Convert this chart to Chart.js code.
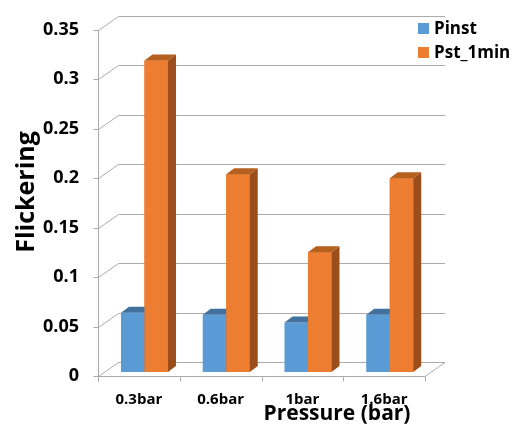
<!DOCTYPE html>
<html>
<head>
<meta charset="utf-8">
<title>Flickering vs pressure</title>
<script src="https://cdn.jsdelivr.net/npm/chart.js@4/dist/chart.umd.min.js"></script>
<style>
  html, body { margin: 0; padding: 0; background: #ffffff; }
  #wrap { width: 522px; height: 430px; }
</style>
</head>
<body>
<div id="wrap"><canvas id="c" width="522" height="430"></canvas></div>
<script>
// ---- data ----
const categories = ['0.3bar', '0.6bar', '1bar', '1.6bar'];
const seriesNames = ['Pinst', 'Pst_1min'];
const pinst = [0.060, 0.058, 0.050, 0.058];
const pst1min = [0.315, 0.200, 0.121, 0.196];
const yTicks = [0, 0.05, 0.1, 0.15, 0.2, 0.25, 0.3, 0.35];
const yTickLabels = ['0', '0.05', '0.1', '0.15', '0.2', '0.25', '0.3', '0.35'];
const xTitle = 'Pressure (bar)';
const yTitle = 'Flickering';

// ---- styling ----
const FONT = '"Open Sans", Lato, sans-serif';
const GRID = '#ababab';
const FRONT = ['#5b9bd5', '#ed7d31'];
const TOP = ['#41719c', '#b5601f'];
const SIDE = ['#35608a', '#9b4e1c'];
const WALL = { x: 20, y: -14 };      // depth of the back wall / floor
const BAR_SHIFT = { x: 5.6, y: -4 }; // bars sit a little into the depth
const BAR_DEPTH = { x: 8, y: -6 };   // thickness of each 3D bar

function drawFaces(ctx, bar, i) {
  const p = bar.getProps(['x', 'y', 'base', 'width'], true);
  const l = p.x - p.width / 2, r = p.x + p.width / 2;
  const top = p.y, bot = p.base;
  // top face
  ctx.fillStyle = TOP[i];
  ctx.beginPath();
  ctx.moveTo(l, top);
  ctx.lineTo(r, top);
  ctx.lineTo(r + BAR_DEPTH.x, top + BAR_DEPTH.y);
  ctx.lineTo(l + BAR_DEPTH.x, top + BAR_DEPTH.y);
  ctx.closePath();
  ctx.fill();
  // right side face
  ctx.fillStyle = SIDE[i];
  ctx.beginPath();
  ctx.moveTo(r, top);
  ctx.lineTo(r + BAR_DEPTH.x, top + BAR_DEPTH.y);
  ctx.lineTo(r + BAR_DEPTH.x, bot + BAR_DEPTH.y);
  ctx.lineTo(r, bot);
  ctx.closePath();
  ctx.fill();
}

const threeD = {
  id: 'threeD',
  beforeDatasetsDraw(chart) {
    const { ctx, chartArea: a, scales: { y } } = chart;
    const bottom = Math.round(y.getPixelForValue(0)) + 0.5;
    const left = Math.round(a.left) + 0.5;
    ctx.save();
    ctx.strokeStyle = GRID;
    ctx.lineWidth = 1;
    // back wall grid lines, each joined to the axis by a slanted segment
    y.ticks.forEach(t => {
      const py = Math.round(y.getPixelForValue(t.value)) + 0.5;
      ctx.beginPath();
      ctx.moveTo(left, py);
      ctx.lineTo(left + WALL.x, py + WALL.y);
      ctx.lineTo(a.right + WALL.x, py + WALL.y);
      ctx.stroke();
      // tick mark
      ctx.beginPath();
      ctx.moveTo(left - 5, py);
      ctx.lineTo(left, py);
      ctx.stroke();
    });
    // floor: front edge and right edge
    ctx.beginPath();
    ctx.moveTo(left, bottom);
    ctx.lineTo(a.right, bottom);
    ctx.lineTo(a.right + WALL.x, bottom + WALL.y);
    ctx.stroke();
    // value axis line
    ctx.beginPath();
    ctx.moveTo(left, a.top);
    ctx.lineTo(left, bottom + 5);
    ctx.stroke();
    // category boundary ticks
    const n = categories.length;
    for (let i = 0; i <= n; i++) {
      const bx = Math.round(a.left + i * (a.right - a.left) / n) + 0.5;
      ctx.beginPath();
      ctx.moveTo(bx, bottom);
      ctx.lineTo(bx, bottom + 5);
      ctx.stroke();
    }
    ctx.restore();
    // shift the bars into the depth
    ctx.save();
    ctx.translate(BAR_SHIFT.x, BAR_SHIFT.y);
  },
  afterDatasetsDraw(chart) {
    const { ctx } = chart;
    const blue = chart.getDatasetMeta(0).data;
    const orange = chart.getDatasetMeta(1).data;
    // per category: blue faces, then the orange bar in front of them
    blue.forEach((bar, k) => {
      drawFaces(ctx, bar, 0);
      orange[k].draw(ctx);
      drawFaces(ctx, orange[k], 1);
    });
    ctx.restore();
  },
  afterDraw(chart) {
    const { ctx } = chart;
    ctx.save();
    ctx.fillStyle = '#000000';
    // legend
    ctx.font = 'bold 17px ' + FONT;
    ctx.textBaseline = 'middle';
    ctx.textAlign = 'left';
    chart.data.datasets.forEach((ds, k) => {
      const cy = 28 + k * 24;
      ctx.fillStyle = FRONT[k];
      ctx.fillRect(418, cy - 5, 11, 11);
      ctx.fillStyle = '#000000';
      ctx.fillText(ds.label, 434, cy + 1);
    });
    // axis titles
    ctx.textAlign = 'center';
    ctx.font = 'bold 21px ' + FONT;
    ctx.fillText(xTitle, 337, 414);
    ctx.save();
    ctx.translate(27, 192);
    ctx.rotate(-Math.PI / 2);
    ctx.font = 'bold 25px ' + FONT;
    ctx.fillText(yTitle, 0, 0);
    ctx.restore();
    ctx.restore();
  }
};

new Chart(document.getElementById('c'), {
  type: 'bar',
  data: {
    labels: categories,
    datasets: [
      { label: seriesNames[0], data: pinst, backgroundColor: FRONT[0] },
      { label: seriesNames[1], data: pst1min, backgroundColor: FRONT[1] }
    ]
  },
  options: {
    responsive: false,
    animation: false,
    events: [],
    clip: false,
    layout: { padding: { left: 0, right: 97, top: 25, bottom: 0 } },
    datasets: { bar: { categoryPercentage: 0.575, barPercentage: 1, borderWidth: 0 } },
    plugins: { legend: { display: false }, tooltip: { enabled: false } },
    scales: {
      x: {
        grid: { display: false, drawTicks: false },
        border: { display: false },
        ticks: { color: '#000', padding: 15, font: { family: FONT, size: 15, weight: 'bold' } },
        afterFit(s) { s.height = 54; }
      },
      y: {
        min: 0,
        max: 0.35,
        grid: { display: false, drawTicks: false },
        border: { display: false },
        afterBuildTicks(s) { s.ticks = yTicks.map(v => ({ value: v })); },
        ticks: {
          color: '#000',
          padding: 19,
          font: { family: FONT, size: 18, weight: 'bold' },
          callback: (v, i) => yTickLabels[i]
        },
        afterFit(s) { s.width = 98; }
      }
    }
  },
  plugins: [threeD]
});
</script>
</body>
</html>
